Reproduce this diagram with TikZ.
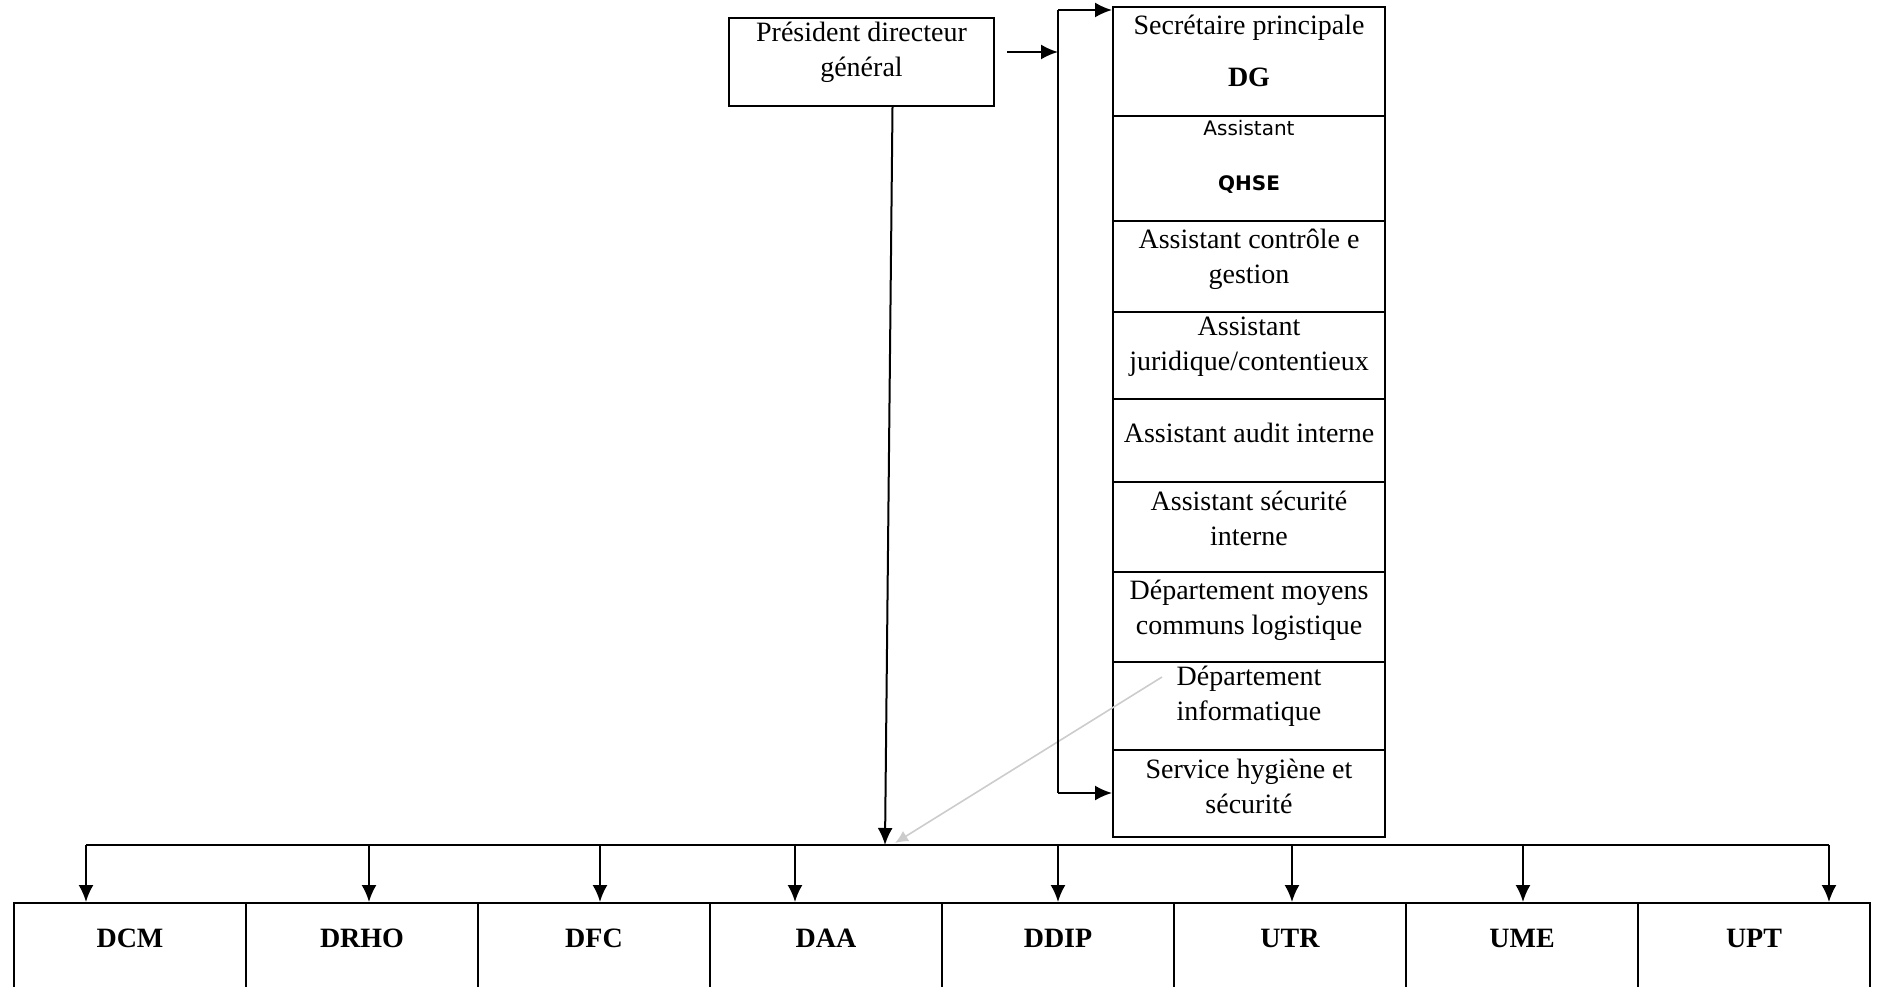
\documentclass[tikz,border=0pt]{standalone}
\usepackage{fontspec}
\setmainfont{Liberation Serif}
\newfontfamily\sansA{DejaVu Sans}
\usetikzlibrary{arrows.meta}
\begin{document}
\begin{tikzpicture}[x=1pt,y=-1pt,
  line width=2pt,
  frame/.style={draw, inner sep=0pt, minimum width=#1},
  rowbox/.style={draw, inner sep=0pt, minimum width=272, minimum height=#1},
  botbox/.style={draw, inner sep=0pt, minimum width=232, minimum height=97},
  txt/.style={align=center, inner sep=0pt, font=\fontsize{28}{35}\selectfont},
  btxt/.style={inner sep=0pt, font=\bfseries\fontsize{28}{33}\selectfont},
  arr/.style={-{Latex[length=17pt,width=15pt]}},
  faint/.style={draw=black!20, line width=1.6pt, -{Latex[length=13pt,width=12pt]}}
]
\useasboundingbox (0,0) rectangle (1877,987);

% President box
\node[frame=265, minimum height=88] (pdg) at (861.5,62) {};
\node[txt] (tpdg) at ([yshift=9.5pt]pdg.center) {Président directeur\\général};

% right column
\node[rowbox=109] (sec)  at (1249,61.5) {};
\node[rowbox=105] (qhse) at (1249,168.5) {};
\node[rowbox=91]  (acg)  at (1249,266.5) {};
\node[rowbox=87]  (ajc)  at (1249,355.5) {};
\node[rowbox=83]  (aai)  at (1249,440.5) {};
\node[rowbox=90]  (asi)  at (1249,527) {};
\node[rowbox=90]  (dmcl) at (1249,617) {};
\node[rowbox=88]  (dinf) at (1249,706) {};
\node[rowbox=87]  (shs)  at (1249,793.5) {};

\node[txt] (tsec) at ([yshift=10.5pt]sec.center) {Secrétaire principale\\[17pt]\textbf{DG}};
\node[align=center, inner sep=0pt, font=\sansA\fontsize{20}{55}\selectfont] (tqhse) at ([yshift=11.5pt]qhse.center) {Assistant\\\textbf{QHSE}};
\node[txt] (tacg)  at ([yshift=7.5pt]acg.center)  {Assistant contrôle e\\gestion};
\node[txt] (tajc)  at ([yshift=8.5pt]ajc.center)  {Assistant\\juridique/contentieux};
\node[txt] (taai)  at ([yshift=7.5pt]aai.center)  {Assistant audit interne};
\node[txt] (tasi)  at ([yshift=9pt]asi.center)    {Assistant sécurité\\interne};
\node[txt] (tdmcl) at ([yshift=7pt]dmcl.center)   {Département moyens\\communs logistique};
\node[txt] (tdinf) at ([yshift=10pt]dinf.center)  {Département\\informatique};
\node[txt] (tshs)  at ([yshift=7.5pt]shs.center)  {Service hygiène et\\sécurité};

% bottom boxes
\node[botbox] (dcm)  at (130,951.5)  {};
\node[botbox] (drho) at (362,951.5)  {};
\node[botbox] (dfc)  at (594,951.5)  {};
\node[botbox] (daa)  at (826,951.5)  {};
\node[botbox] (ddip) at (1058,951.5) {};
\node[botbox] (utr)  at (1290,951.5) {};
\node[botbox] (ume)  at (1522,951.5) {};
\node[botbox] (upt)  at (1754,951.5) {};
\foreach \n/\t in {dcm/DCM, drho/DRHO, dfc/DFC, daa/DAA, ddip/DDIP, utr/UTR, ume/UME, upt/UPT}{
  \node[btxt] (t\n) at ([yshift=13.5pt]\n.center) {\t};
}

% bus and arrows down
\coordinate (bus) at (885,845);
\foreach \n/\dx in {dcm/-44, drho/7, dfc/6, daa/-31, ddip/0, utr/2, ume/1, upt/75}{
  \coordinate (a\n) at ([xshift=\dx pt]\n.north);
  \draw[arr] (a\n |- bus) -- (a\n);
}
\draw[line width=2.4pt] (adcm |- bus) -- (aupt |- bus);

% president down to bus
\coordinate (pdgout) at ([xshift=31pt]pdg.south);
\draw[arr] (pdgout) -- (bus);

% faint grey line
\coordinate (g1) at (1162,677);
\coordinate (g2) at (895,843);
\draw[faint] (g1) -- (g2);

% bracket to right column
\coordinate (brkT) at (1058,10);
\coordinate (brkM) at (1058,52);
\coordinate (brkB) at (1058,793);
\coordinate (pe) at ([xshift=12pt]pdg.east);
\draw[arr] (pe |- brkM) -- (brkM);
\draw (brkT) -- (brkB);
\draw[arr] (brkT) -- (brkT -| sec.west);
\draw[arr] (brkB) -- (brkB -| shs.west);
\end{tikzpicture}
\end{document}
